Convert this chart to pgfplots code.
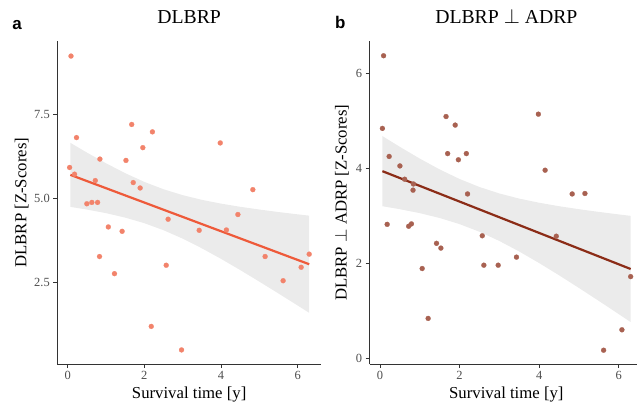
\documentclass[border=0pt]{standalone}
\usepackage{fontspec}
\setmainfont{Liberation Serif}
\newfontfamily\arial{Liberation Sans}
\usepackage{pgfplots}
\pgfplotsset{compat=1.18}
\definecolor{lineA}{HTML}{EE5A3A}
\definecolor{lineB}{HTML}{8B2C17}
\definecolor{ptA}{HTML}{F2836B}
\definecolor{ptB}{HTML}{A86151}
\definecolor{tickgray}{HTML}{4D4D4D}
\definecolor{axgray}{HTML}{333333}
\definecolor{bandgray}{HTML}{999999}

\pgfplotsset{
  myaxis/.style={
    scale only axis,
    axis x line*=bottom, axis y line*=left,
    axis line style={-, axgray, line width=1bp},
    tick style={axgray, line width=1bp},
    tick align=outside, major tick length=4bp,
    xtick={0,2,4,6},
    tick label style={font=\fontsize{12.5}{14}\selectfont, text=tickgray},
    /pgf/number format/assume math mode=true,
    label style={font=\fontsize{16.8}{19}\selectfont, text=black},
    title style={font=\fontsize{19.8}{22}\selectfont, at={(axis description cs:0.5,1)}, anchor=base, yshift=12bp},
    xlabel style={at={(axis description cs:0.5,0)}, anchor=base, yshift=-34bp},
    xlabel={Survival time [y]},
  },
  band/.style={draw=none, fill=bandgray, fill opacity=0.2},
  pts/.style={only marks, mark=*, mark size=2.5bp, color=#1,
    mark options={solid, draw=#1, fill=#1, line width=0.2bp}},
}

\begin{document}
\begin{tikzpicture}
\path[use as bounding box] (0,0) rectangle (637bp,402bp);

% ---------------- Panel a ----------------
\begin{axis}[myaxis, at={(57.3bp,38bp)}, anchor=south west,
  width=263.7bp, height=322.7bp,
  xmin=-0.271, xmax=6.608, ymin=0.071, ymax=9.675,
  ytick={2.5,5,7.5},
  yticklabel style={/pgf/number format/.cd, fixed, fixed zerofill, precision=1},
  title={DLBRP},
  ylabel={DLBRP [Z-Scores]},
  ylabel style={at={(axis description cs:-0.1168,0.5)}, anchor=base},
]
\addplot[pts=ptA] coordinates {
(0.05,5.92) (0.086,9.235) (0.18,5.72) (0.23,6.81) (0.50,4.84) (0.63,4.88)
(0.72,5.53) (0.78,4.88) (0.83,3.27) (0.84,6.17) (1.06,4.15) (1.22,2.76)
(1.42,4.02) (1.52,6.13) (1.67,7.20) (1.71,5.47) (1.89,5.31) (1.96,6.51)
(2.18,1.19) (2.21,6.98) (2.57,3.01) (2.62,4.38) (2.97,0.49) (3.43,4.05)
(3.98,6.65) (4.14,4.06) (4.44,4.52) (4.83,5.26) (5.15,3.27) (5.62,2.55)
(6.09,2.95) (6.30,3.34)
};
\addplot[band] coordinates {
(0.07,6.653) (0.5,6.364) (1.0,6.045) (1.5,5.750) (2.0,5.490) (2.5,5.271)
(3.0,5.096) (3.5,4.956) (4.0,4.844) (4.5,4.749) (5.0,4.668) (5.5,4.593)
(6.0,4.525) (6.3,4.486)
(6.3,1.594) (6.0,1.811) (5.5,2.169) (5.0,2.522) (4.5,2.867) (4.0,3.200)
(3.5,3.514) (3.0,3.802) (2.5,4.053) (2.0,4.262) (1.5,4.428) (1.0,4.561)
(0.5,4.668) (0.07,4.747)
};
\addplot[lineA, line width=2.2bp] coordinates {(0.07,5.70) (6.30,3.04)};
\end{axis}

% ---------------- Panel b ----------------
\begin{axis}[myaxis, at={(369.7bp,38bp)}, anchor=south west,
  width=273.3bp, height=322.7bp,
  xmin=-0.259, xmax=6.61, ymin=-0.12, ymax=6.674,
  ytick={0,2,4,6},
  title={DLBRP $\perp$ ADRP},
  ylabel={DLBRP $\perp$ ADRP [Z-Scores]},
  ylabel style={at={(axis description cs:-0.0849,0.5)}, anchor=base},
]
\addplot[pts=ptB] coordinates {
(0.06,4.84) (0.09,6.37) (0.18,2.82) (0.23,4.25) (0.50,4.05) (0.62,3.77)
(0.72,2.78) (0.79,2.83) (0.83,3.54) (0.84,3.67) (1.06,1.89) (1.21,0.84)
(1.42,2.42) (1.53,2.32) (1.66,5.09) (1.70,4.31) (1.89,4.91) (1.97,4.18)
(2.17,4.31) (2.20,3.46) (2.57,2.58) (2.61,1.96) (2.97,1.96) (3.43,2.13)
(3.98,5.14) (4.15,3.96) (4.43,2.57) (4.83,3.46) (5.15,3.47) (5.62,0.17)
(6.08,0.60) (6.30,1.72)
};
\addplot[band] coordinates {
(0.06,4.678) (0.5,4.451) (1.0,4.204) (1.5,3.976) (2.0,3.775) (2.5,3.606)
(3.0,3.470) (3.5,3.362) (4.0,3.275) (4.5,3.202) (5.0,3.139) (5.5,3.082)
(6.0,3.029) (6.3,2.999)
(6.3,0.763) (6.0,0.931) (5.5,1.208) (5.0,1.481) (4.5,1.748) (4.0,2.005)
(3.5,2.248) (3.0,2.470) (2.5,2.664) (2.0,2.825) (1.5,2.954) (1.0,3.056)
(0.5,3.139) (0.06,3.202)
};
\addplot[lineB, line width=2.2bp] coordinates {(0.06,3.94) (6.30,1.88)};
\end{axis}

\node[anchor=base west, inner sep=0, font=\arial\bfseries\fontsize{17}{20}\selectfont] at (12.2bp,372.7bp) {a};
\node[anchor=base west, inner sep=0, font=\arial\bfseries\fontsize{17}{20}\selectfont] at (334.8bp,373bp) {b};
\end{tikzpicture}
\end{document}
